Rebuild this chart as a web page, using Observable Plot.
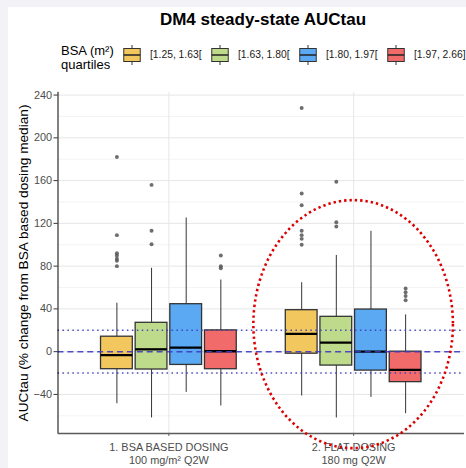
<!DOCTYPE html>
<html>
<head>
<meta charset="utf-8">
<script src="https://cdn.jsdelivr.net/npm/d3@7"></script>
<script src="https://cdn.jsdelivr.net/npm/@observablehq/plot@0.6"></script>
<style>
  html, body { margin: 0; padding: 0; width: 466px; height: 468px; overflow: hidden; background: #f3f2f7; font-family: "Liberation Sans", Arial, sans-serif; }
  #card { position: absolute; left: 8px; top: 7px; right: 0; bottom: 0; background: #ffffff; }
  #title { position: absolute; left: 58px; width: 410px; top: 10px; text-align: center; font-weight: bold; font-size: 17px; line-height: 20px; color: #000; }
  #ltitle { position: absolute; left: 61px; top: 44px; font-size: 13px; line-height: 14px; color: #000; }
  #lkeys { position: absolute; left: 123px; top: 43.5px; height: 22px; display: flex; align-items: center; }
  .key { display: flex; align-items: center; width: 88px; flex: none; }
  .key:last-child { width: 80px; }
  .key svg { display: block; margin-right: 9px; flex: none; }
  .key span { font-size: 10.3px; color: #1a1a1a; white-space: nowrap; }
  #chart { position: absolute; left: 0; top: 80px; }
</style>
</head>
<body>
<div id="card"></div>
<div id="title">DM4 steady-state AUCtau</div>
<div id="ltitle">BSA (m²)<br>quartiles</div>
<div id="lkeys"></div>
<div id="chart"></div>
<script>
// ---------------- data ----------------
const groups = ["1. BSA BASED DOSING\n100 mg/m² Q2W", "2. FLAT DOSING\n180 mg Q2W"];
const quartiles = ["[1.25, 1.63[", "[1.63, 1.80[", "[1.80, 1.97[", "[1.97, 2.66]"];
const colors = ["#F2C75E", "#BEDB8B", "#5AA9F2", "#F26B6B"];

// box stats, ordered group 1 (4 quartiles) then group 2 (4 quartiles)
const boxGroup    = [1, 1, 1, 1, 2, 2, 2, 2];
const boxQuartile = [0, 1, 2, 3, 0, 1, 2, 3];
const whiskerLow  = [-48.7, -62, -38.1, -50.8, -41.5, -62, -42.8, -58];
const q1          = [-16.4, -16.7, -12.4, -16.4, -1.9, -13, -17.7, -28.5];
const median      = [-3.3, 2.2, 3.7, 0.4, 16.7, 8.4, 0, -17];
const q3          = [14.0, 27, 44.4, 19.9, 38.8, 32.6, 39.4, 0];
const whiskerHigh = [45.3, 78, 125, 67, 64.5, 90, 112.6, 34.4];

// outliers
const outGroup    = [1,1,1,1,1,1,1, 1,1,1, 1,1,1, 2,2,2,2,2,2,2, 2,2,2, 2,2,2,2];
const outQuartile = [0,0,0,0,0,0,0, 1,1,1, 3,3,3, 0,0,0,0,0,0,0, 1,1,1, 3,3,3,3];
const outValue    = [182,109,92,90,87,85,80, 156,113,100.5, 90,80,78, 228,148,137,113,109,105.5,100, 159,121,117, 59,55.5,52,48];

const yTicks = [-40, 0, 40, 80, 120, 160, 200, 240];
const yMinor = [-60, -20, 20, 60, 100, 140, 180, 220];
const refLines = [-20, 20];

// highlight ellipse (data units): centre at group 2
const ellipse = {cx: 2, cy: 25.3, rx: 0.54, ry: 116};

// ---------------- layout helpers ----------------
const dodge = 0.1875;       // spacing between quartile boxes (x units)
const halfW = 0.086;        // half box width (x units)
const xpos = (g, q) => g + (q - 1.5) * dodge;

const boxes = boxGroup.map((g, i) => ({
  g, q: boxQuartile[i], x: xpos(g, boxQuartile[i]),
  lo: whiskerLow[i], q1: q1[i], med: median[i], q3: q3[i], hi: whiskerHigh[i]
}));
const outliers = outValue.map((v, i) => ({x: xpos(outGroup[i], outQuartile[i]), v}));

// ---------------- legend ----------------
const lk = document.getElementById("lkeys");
quartiles.forEach((q, i) => {
  const d = document.createElement("div");
  d.className = "key";
  d.innerHTML = `<svg width="18" height="22"><line x1="9" x2="9" y1="1" y2="21" stroke="#333" stroke-width="1"/>` +
    `<rect x="0.75" y="4.5" width="16.5" height="13" fill="${colors[i]}" stroke="#333" stroke-width="1"/>` +
    `<line x1="0.75" x2="17.25" y1="11" y2="11" stroke="#222" stroke-width="1.5"/></svg><span>${q}</span>`;
  lk.appendChild(d);
});

// ---------------- plot ----------------
const plot = Plot.plot({
  width: 470, height: 388,
  marginLeft: 58, marginRight: 2, marginTop: 12, marginBottom: 32,
  style: {fontFamily: "'Liberation Sans', Arial, sans-serif", fontSize: "11px", background: "transparent", overflow: "visible"},
  x: {type: "linear", domain: [0.4, 2.6]},
  y: {domain: [-76.5, 242.5]},
  marks: [
    Plot.gridY(yMinor, {stroke: "#f0f0f0", strokeOpacity: 1, strokeWidth: 0.8}),
    Plot.gridY(yTicks, {stroke: "#e6e6e6", strokeOpacity: 1, strokeWidth: 1}),
    Plot.gridX([1, 2], {stroke: "#e6e6e6", strokeOpacity: 1, strokeWidth: 1}),
    Plot.ruleX(boxes, {x: "x", y1: "lo", y2: "hi", stroke: "#333", strokeWidth: 1}),
    Plot.rect(boxes, {x1: d => d.x - halfW, x2: d => d.x + halfW, y1: "q1", y2: "q3",
      fill: d => colors[d.q], stroke: "#333", strokeWidth: 1.3}),
    Plot.ruleY(boxes, {y: "med", x1: d => d.x - halfW, x2: d => d.x + halfW, stroke: "#000", strokeWidth: 2.3}),
    Plot.dot(outliers, {x: "x", y: "v", r: 2, fill: "#555", fillOpacity: 0.85, stroke: "none"}),
    Plot.ruleY([0], {stroke: "#3b3bbf", strokeWidth: 1.5, strokeDasharray: "6 4", strokeOpacity: 0.9}),
    Plot.ruleY(refLines, {stroke: "#3b3bbf", strokeWidth: 1.4, strokeDasharray: "1.5 3.5", strokeOpacity: 0.9}),
    Plot.axisY(yTicks, {tickSize: 4, tickPadding: 2, fill: "#4d4d4d", stroke: "#333",
      label: "AUCtau (% change from BSA based dosing median)", labelAnchor: "center", labelArrow: "none",
      labelOffset: 40}),
    Plot.axisX([1, 2], {tickSize: 3, tickPadding: 6, fill: "#4d4d4d", stroke: "#555",
      tickFormat: d => groups[d - 1], label: null, lineHeight: 1.15}),
    Plot.ruleX([0.4], {stroke: "#000", strokeWidth: 1}),
    Plot.ruleY([-76.5], {stroke: "#5a5a5a", strokeWidth: 1.6})
  ]
});

// style y label
d3.select(plot).selectAll("[aria-label='y-axis label'] text").attr("font-size", "13.8px").attr("fill", "#000");

// highlight ellipse drawn through the plot's scales
const sx = plot.scale("x"), sy = plot.scale("y");
const cx = sx.apply(ellipse.cx), cy = sy.apply(ellipse.cy);
const rx = Math.abs(sx.apply(ellipse.cx + ellipse.rx) - cx);
const ry = Math.abs(sy.apply(ellipse.cy + ellipse.ry) - cy);
d3.select(plot).append("ellipse")
  .attr("cx", cx).attr("cy", cy).attr("rx", rx).attr("ry", ry)
  .attr("fill", "none").attr("stroke", "#dd0000").attr("stroke-width", 2.6)
  .attr("stroke-dasharray", "2.4 3");

document.getElementById("chart").appendChild(plot);
</script>
</body>
</html>
